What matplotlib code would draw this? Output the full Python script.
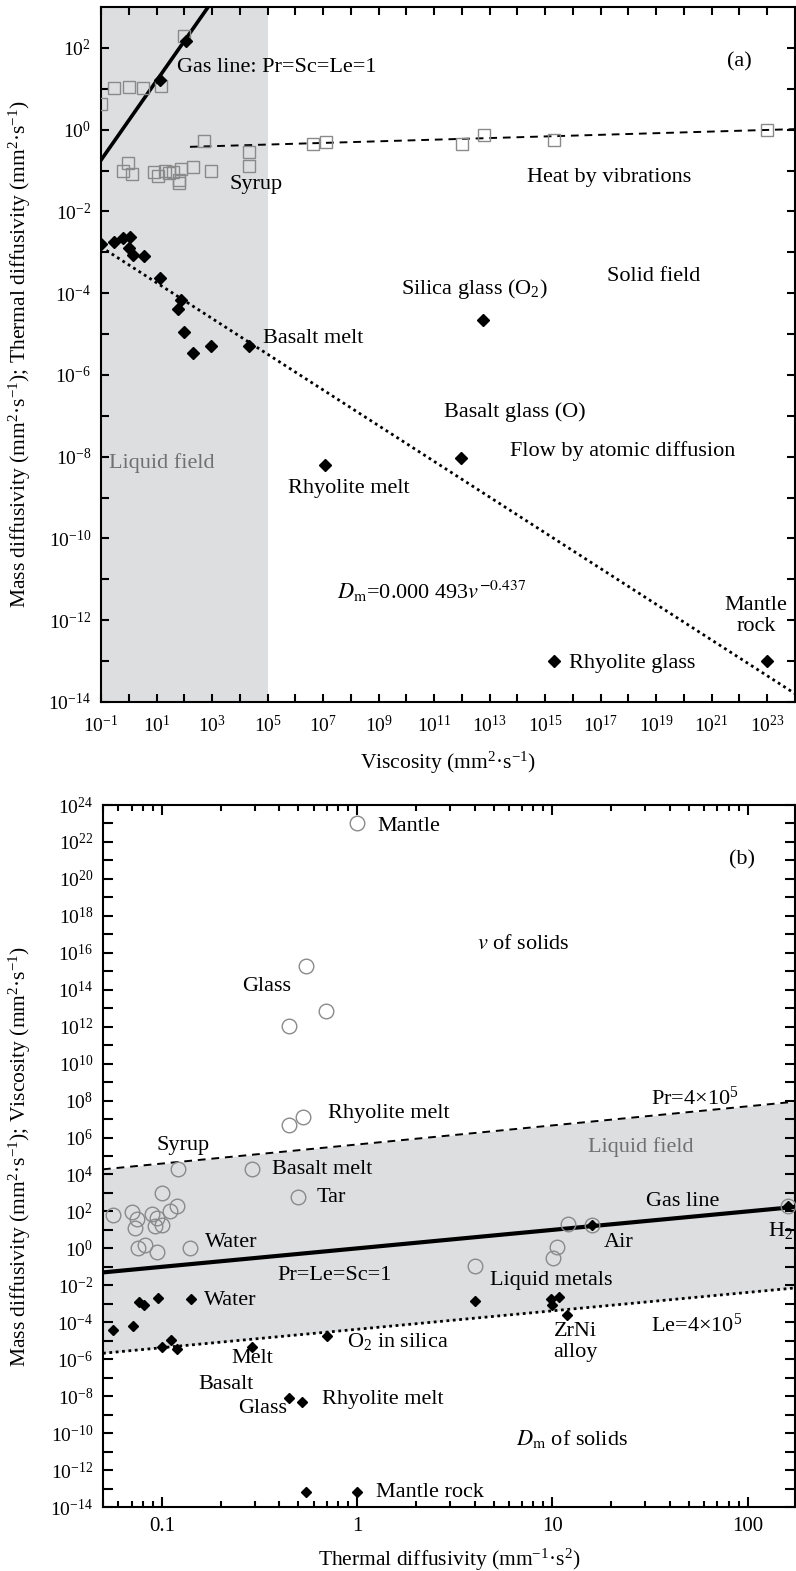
import numpy as np
import matplotlib.pyplot as plt
from matplotlib.ticker import FixedLocator, NullLocator, FuncFormatter, LogLocator, NullFormatter

plt.rcParams['font.family'] = ['Liberation Serif', 'DejaVu Serif']
plt.rcParams['mathtext.fontset'] = 'stix'

# ---------------- panel (a): diffusivity vs viscosity ----------------
# thermal diffusivity (open squares)
sq_visc = [0.1, 0.30, 1.05, 3.3, 14.5, 98, 500, 0.95, 0.63, 1.35, 11.5, 20, 40, 66, 79,
           209, 955, 2.1e4, 2.1e4, 4.4e6, 1.3e7, 1.0e12, 6.5e12, 2e15, 1e23, 8, 28, 66]
sq_alpha = [4.2, 10.3, 11.2, 10.2, 11.7, 195, 0.54, 0.15, 0.10, 0.082, 0.074, 0.10, 0.094, 0.059, 0.11,
            0.124, 0.10, 0.29, 0.13, 0.45, 0.51, 0.45, 0.74, 0.56, 1.0, 0.09, 0.085, 0.05]
# mass diffusivity (filled diamonds)
dm_visc = [0.1, 0.30, 0.63, 1.1, 1.05, 1.38, 3.6, 13, 79, 60, 100, 200, 910, 2.1e4,
           6e12, 1.2e7, 9e11, 2e15, 1e23, 13, 115]
dm_diff = [1.6e-3, 1.8e-3, 2.3e-3, 2.4e-3, 1.26e-3, 8.5e-4, 8.1e-4, 2.3e-4, 6.8e-5, 4.0e-5, 1.1e-5,
           3.5e-6, 5.1e-6, 5.1e-6, 2.2e-5, 6.3e-9, 9.3e-9, 1e-13, 1e-13, 16, 150]
# guide lines (end points)
gas_a_x = [0.1, 724]
gas_a_y = [0.18, 1000]
vib_a_x = [160, 1e24]
vib_a_y = [0.38, 1.03]
fit_a_x = [0.1, 1e24]          # Dm = 0.000493 v^-0.437
fit_a_y = [1.35e-3, 1.6e-14]
liquid_a = [0.1, 1e5]

# ---------------- panel (b): viscosity / diffusivity vs thermal diffusivity ----------------
ci_alpha = [1.0, 0.55, 0.45, 0.69, 0.45, 0.53, 0.121, 0.29, 0.50,
            0.056, 0.070, 0.075, 0.073, 0.10, 0.12, 0.11, 0.089, 0.095, 0.092, 0.10,
            0.0755, 0.082, 0.095, 0.139, 4.0, 12.1, 16, 10.6, 10.1, 161]
ci_visc = [1e23, 2e15, 1.1e12, 7.5e12, 4.7e6, 1.35e7, 2.0e4, 1.9e4, 580,
           66, 89, 38, 12, 1000, 204, 110, 74, 44, 17, 19,
           1.1, 1.5, 0.66, 1.0, 0.11, 20, 18, 1.2, 0.32, 195]
db_alpha = [0.0565, 0.0711, 0.0763, 0.0814, 0.0957, 0.141, 0.0998, 0.111, 0.120, 0.29, 0.698,
            0.449, 0.522, 0.548, 1.0, 4.0, 9.86, 9.96, 10.8, 11.9, 16, 161]
db_diff = [3.8e-5, 6.5e-5, 1.26e-3, 8.3e-4, 2.1e-3, 1.9e-3, 4.8e-6, 1.1e-5, 3.6e-6, 4.8e-6, 1.9e-5,
           8.1e-9, 4.7e-9, 6.3e-14, 6.3e-14, 1.4e-3, 1.9e-3, 8.3e-4, 2.3e-3, 2.5e-4, 18, 195]
line_b_x = [0.05, 175]
gas_b_y = [0.05, 175]
pr_b_y = [1.9e4, 8.7e7]
le_b_y = [2.1e-6, 7.2e-3]

GRAY = '#dcdedf'
MEC = '#8a8a8a'
FS = 16


def sup10(v, pos, parity):
    e = int(round(np.log10(v)))
    if e % 2 != parity:
        return ''
    return r'$\mathregular{10^{%d}}$' % e


def lab(ax, xl, yl, s, ha='left', **kw):
    ax.text(10 ** xl, 10 ** yl, s, ha=ha, va='center', fontsize=FS, **kw)


fig = plt.figure(figsize=(7.96, 15.71), dpi=100)

# ---- panel (a) ----
ax1 = fig.add_axes([101 / 796, 1 - 702 / 1571, 694 / 796, 695 / 1571])
ax1.set_xscale('log')
ax1.set_yscale('log')
ax1.axvspan(liquid_a[0], liquid_a[1], color=GRAY, zorder=0, lw=0)
ax1.plot(gas_a_x, gas_a_y, color='black', lw=2.6, zorder=2)
ax1.plot(vib_a_x, vib_a_y, color='black', lw=1.4, ls=(0, (4, 3)), zorder=2)
ax1.plot(fit_a_x, fit_a_y, color='black', lw=2.0, ls=(0, (1, 1.3)), zorder=2)
ax1.plot(sq_visc, sq_alpha, 's', ms=8.6, mfc='none', mec=MEC, mew=1.0, zorder=3)
ax1.plot(dm_visc, dm_diff, 'D', ms=5.8, color='black', zorder=4)
ax1.set_xlim(1e-1, 1e24)
ax1.set_ylim(1e-14, 1e3)

ax1.xaxis.set_major_locator(FixedLocator(10.0 ** np.arange(-1, 24)))
ax1.xaxis.set_minor_locator(NullLocator())
ax1.xaxis.set_major_formatter(FuncFormatter(lambda v, p: sup10(v, p, 1)))
ax1.yaxis.set_major_locator(FixedLocator(10.0 ** np.arange(-14, 3)))
ax1.yaxis.set_minor_locator(NullLocator())
ax1.yaxis.set_major_formatter(FuncFormatter(lambda v, p: sup10(v, p, 0)))
ax1.tick_params(which='both', direction='in', top=True, right=True, length=6, width=1.5,
                labelsize=14, pad=7)
ax1.tick_params(axis='x', pad=9)
for s in ax1.spines.values():
    s.set_linewidth(1.5)

ax1.set_xlabel(r'Viscosity (mm$\mathregular{^2}$·s$\mathregular{^{-1}}$)', fontsize=15.5)
ax1.xaxis.set_label_coords(0.5, -0.069)
ax1.set_ylabel(r'Mass diffusivity (mm$\mathregular{^2}$·s$\mathregular{^{-1}}$); '
               r'Thermal diffusivity (mm$\mathregular{^2}$·s$\mathregular{^{-1}}$)', fontsize=15.5)
ax1.yaxis.set_label_coords(-0.098, 0.5)

lab(ax1, 1.73, 1.51, 'Gas line: Pr=Sc=Le=1')
lab(ax1, 3.64, -1.35, 'Syrup')
lab(ax1, 17.31, -1.18, 'Heat by vibrations', ha='center')
lab(ax1, 22.0, 1.65, '(a)', ha='center')
lab(ax1, 18.9, -3.58, 'Solid field', ha='center')
lab(ax1, 12.45, -3.90, r'Silica glass (O$\mathregular{_2}$)', ha='center')
lab(ax1, 4.83, -5.12, 'Basalt melt')
lab(ax1, 13.9, -6.91, 'Basalt glass (O)', ha='center')
lab(ax1, 7.92, -8.77, 'Rhyolite melt', ha='center')
lab(ax1, 17.8, -7.86, 'Flow by atomic diffusion', ha='center')
lab(ax1, 1.19, -8.15, 'Liquid field', ha='center', color='#707070')
lab(ax1, 10.9, -11.3, r'$D_\mathrm{m}$=0.000 493$v^{-0.437}$', ha='center')
lab(ax1, 22.6, -11.9, 'Mantle\nrock', ha='center', linespacing=1.1)
lab(ax1, 15.87, -13.05, 'Rhyolite glass')

# ---- panel (b) ----
ax2 = fig.add_axes([103 / 796, 1 - 1507 / 1571, 692 / 796, 702 / 1571])
ax2.set_xscale('log')
ax2.set_yscale('log')
ax2.fill_between(line_b_x, le_b_y, pr_b_y, color=GRAY, zorder=0, lw=0)
ax2.plot(line_b_x, gas_b_y, color='black', lw=3.0, zorder=2)
ax2.plot(line_b_x, pr_b_y, color='black', lw=1.4, ls=(0, (4, 3)), zorder=2)
ax2.plot(line_b_x, le_b_y, color='black', lw=2.0, ls=(0, (1, 1.3)), zorder=2)
ax2.plot(ci_alpha, ci_visc, 'o', ms=10.5, mfc='none', mec=MEC, mew=1.0, zorder=3)
ax2.plot(db_alpha, db_diff, 'D', ms=5.2, color='black', zorder=4)
ax2.set_xlim(0.05, 175)
ax2.set_ylim(1e-14, 1e24)

ax2.xaxis.set_major_locator(LogLocator(base=10))
ax2.xaxis.set_minor_locator(LogLocator(base=10, subs=np.arange(2, 10)))
ax2.xaxis.set_minor_formatter(NullFormatter())
ax2.xaxis.set_major_formatter(FuncFormatter(lambda v, p: '%g' % v))
ax2.yaxis.set_major_locator(FixedLocator(10.0 ** np.arange(-14, 25)))
ax2.yaxis.set_minor_locator(NullLocator())
ax2.yaxis.set_major_formatter(FuncFormatter(lambda v, p: sup10(v, p, 0)))
ax2.tick_params(which='both', direction='in', top=True, right=True, width=1.5,
                labelsize=14, pad=7)
ax2.tick_params(which='major', length=7)
ax2.tick_params(which='minor', length=4)
ax2.tick_params(axis='x', labelsize=15)
for s in ax2.spines.values():
    s.set_linewidth(1.5)

ax2.set_xlabel(r'Thermal diffusivity (mm$\mathregular{^{-1}}$·s$\mathregular{^{2}}$)', fontsize=15.5)
ax2.xaxis.set_label_coords(0.5, -0.057)
ax2.set_ylabel(r'Mass diffusivity (mm$\mathregular{^2}$·s$\mathregular{^{-1}}$); '
               r'Viscosity (mm$\mathregular{^2}$·s$\mathregular{^{-1}}$)', fontsize=15.5)
ax2.yaxis.set_label_coords(-0.101, 0.5)

lab(ax2, 0.103, 22.81, 'Mantle')
lab(ax2, 1.97, 21.02, '(b)', ha='center')
lab(ax2, 0.851, 16.47, r'$v$ of solids', ha='center')
lab(ax2, -0.462, 14.15, 'Glass', ha='center')
lab(ax2, -0.149, 7.32, 'Rhyolite melt')
lab(ax2, -0.892, 5.59, 'Syrup', ha='center')
lab(ax2, -0.436, 4.29, 'Basalt melt')
lab(ax2, -0.205, 2.78, 'Tar')
lab(ax2, -0.779, 0.34, 'Water')
lab(ax2, -0.41, -1.45, 'Pr=Le=Sc=1')
lab(ax2, -0.785, -2.80, 'Water')
lab(ax2, 1.503, 8.14, r'Pr=4×10$\mathregular{^5}$')
lab(ax2, 1.451, 5.48, 'Liquid field', ha='center', color='#707070')
lab(ax2, 1.667, 2.51, 'Gas line', ha='center')
lab(ax2, 1.262, 0.34, 'Air')
lab(ax2, 2.103, 0.99, r'H$\mathregular{_2}$')
lab(ax2, 0.682, -1.72, 'Liquid metals')
lab(ax2, 1.503, -4.15, r'Le=4×10$\mathregular{^5}$')
lab(ax2, 1.118, -5.07, 'ZrNi\nalloy', ha='center', linespacing=1.1)
lab(ax2, -0.051, -5.02, r'O$\mathregular{_2}$ in silica')
lab(ax2, -0.538, -5.94, 'Melt', ha='center')
lab(ax2, -0.672, -7.35, 'Basalt', ha='center')
lab(ax2, -0.482, -8.65, 'Glass', ha='center')
lab(ax2, -0.179, -8.16, 'Rhyolite melt')
lab(ax2, 1.103, -10.33, r'$D_\mathrm{m}$ of solids', ha='center')
lab(ax2, 0.097, -13.2, 'Mantle rock')

fig.savefig('out.png', dpi=100)
